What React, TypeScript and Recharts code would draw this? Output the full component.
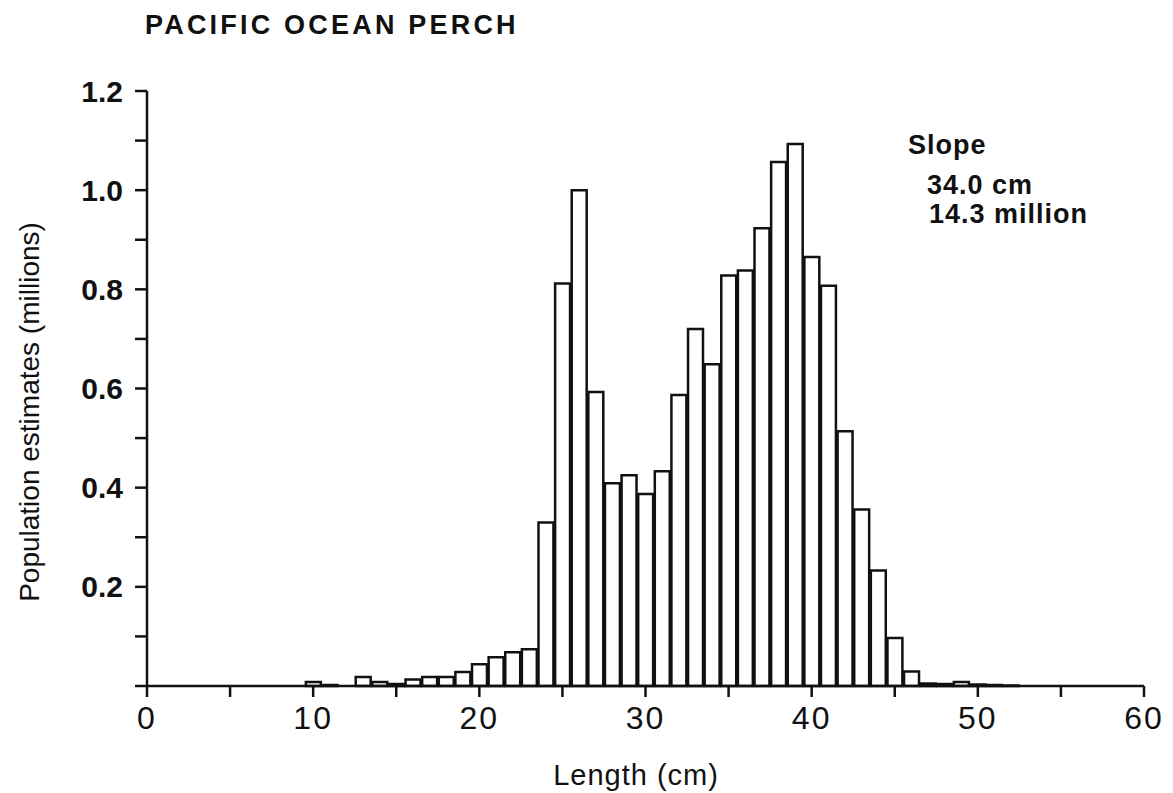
import { BarChart, Bar, XAxis, YAxis } from 'recharts';

// length class midpoints (cm) and population estimates (millions)
const lengthCm = [
  9, 10, 11, 12, 13, 14, 15, 16, 17, 18, 19, 20, 21, 22, 23, 24, 25, 26, 27, 28, 29, 30,
  31, 32, 33, 34, 35, 36, 37, 38, 39, 40, 41, 42, 43, 44, 45, 46, 47, 48, 49, 50, 51, 52,
];
const popMillions = [
  0, 0.008, 0.002, 0, 0.018, 0.008, 0.004, 0.013, 0.018, 0.018, 0.028, 0.044, 0.058, 0.068,
  0.074, 0.33, 0.812, 1.0, 0.593, 0.409, 0.425, 0.387, 0.433, 0.587, 0.72, 0.649, 0.828,
  0.838, 0.923, 1.057, 1.093, 0.865, 0.807, 0.514, 0.356, 0.233, 0.097, 0.029, 0.005, 0.004,
  0.008, 0.003, 0.002, 0.001,
];

const xTicks = [0, 5, 10, 15, 20, 25, 30, 35, 40, 45, 50, 55, 60];
const yTicks = [0, 0.1, 0.2, 0.3, 0.4, 0.5, 0.6, 0.7, 0.8, 0.9, 1.0, 1.1, 1.2];

const title = 'PACIFIC OCEAN PERCH';
const notes = ['Slope', '34.0 cm', '14.3 million'];

const W = 1173;
const H = 793;
const margin = { top: 91, right: 29, bottom: 47, left: 67 };
const yAxisW = 80;
const xAxisH = 60;
const plotW = W - margin.left - yAxisW - margin.right;

const font = '"Liberation Sans", Arial, sans-serif';
const ink = '#111';

const data = lengthCm.map((len, i) => ({ len, pop: popMillions[i] }));

function yLabel(v: number) {
  const tenths = Math.round(v * 10);
  if (tenths === 0 || tenths % 2 !== 0) return '';
  return v.toFixed(1);
}

function xLabel(v: number) {
  return v % 10 === 0 ? String(v) : '';
}

const noteStyle = { position: 'absolute' as const, fontSize: 27, fontWeight: 700, letterSpacing: 1, color: ink };

export default function App() {
  return (
    <div style={{ position: 'absolute', left: 0, top: 0, width: W, height: H, background: '#fff', fontFamily: font }}>
      <BarChart width={W} height={H} data={data} margin={margin} barCategoryGap={0} barGap={0}>
        <XAxis
          dataKey="len"
          type="number"
          domain={[0, 60]}
          ticks={xTicks}
          interval={0}
          tickFormatter={xLabel}
          height={xAxisH}
          tickSize={11}
          tickMargin={9}
          stroke={ink}
          strokeWidth={2.5}
          tick={{ fontSize: 32, fill: ink, fontFamily: font, letterSpacing: 2 }}
        />
        <YAxis
          type="number"
          domain={[0, 1.2]}
          ticks={yTicks}
          interval={0}
          tickFormatter={yLabel}
          width={yAxisW}
          tickSize={12}
          tickMargin={12}
          stroke={ink}
          strokeWidth={2.5}
          tick={{ fontSize: 30, fontWeight: 700, fill: ink, fontFamily: font }}
        />
        <Bar
          dataKey="pop"
          fill="#fff"
          stroke={ink}
          strokeWidth={2.5}
          barSize={plotW / 60}
          isAnimationActive={false}
        />
      </BarChart>

      <div style={{ position: 'absolute', left: 145, top: 10, fontSize: 27, fontWeight: 600, letterSpacing: 3.2, color: ink }}>
        {title}
      </div>
      <div
        style={{
          position: 'absolute',
          left: 30,
          top: 412,
          transform: 'translate(-50%, -50%) rotate(-90deg)',
          whiteSpace: 'nowrap',
          fontSize: 28,
          color: ink,
        }}
      >
        Population estimates (millions)
      </div>
      <div
        style={{
          position: 'absolute',
          left: 636,
          top: 775,
          transform: 'translate(-50%, -50%)',
          whiteSpace: 'nowrap',
          fontSize: 29,
          letterSpacing: 1,
          color: ink,
        }}
      >
        Length (cm)
      </div>
      <div style={{ ...noteStyle, left: 908, top: 130 }}>{notes[0]}</div>
      <div style={{ ...noteStyle, left: 927, top: 170 }}>{notes[1]}</div>
      <div style={{ ...noteStyle, left: 929, top: 199 }}>{notes[2]}</div>
    </div>
  );
}
